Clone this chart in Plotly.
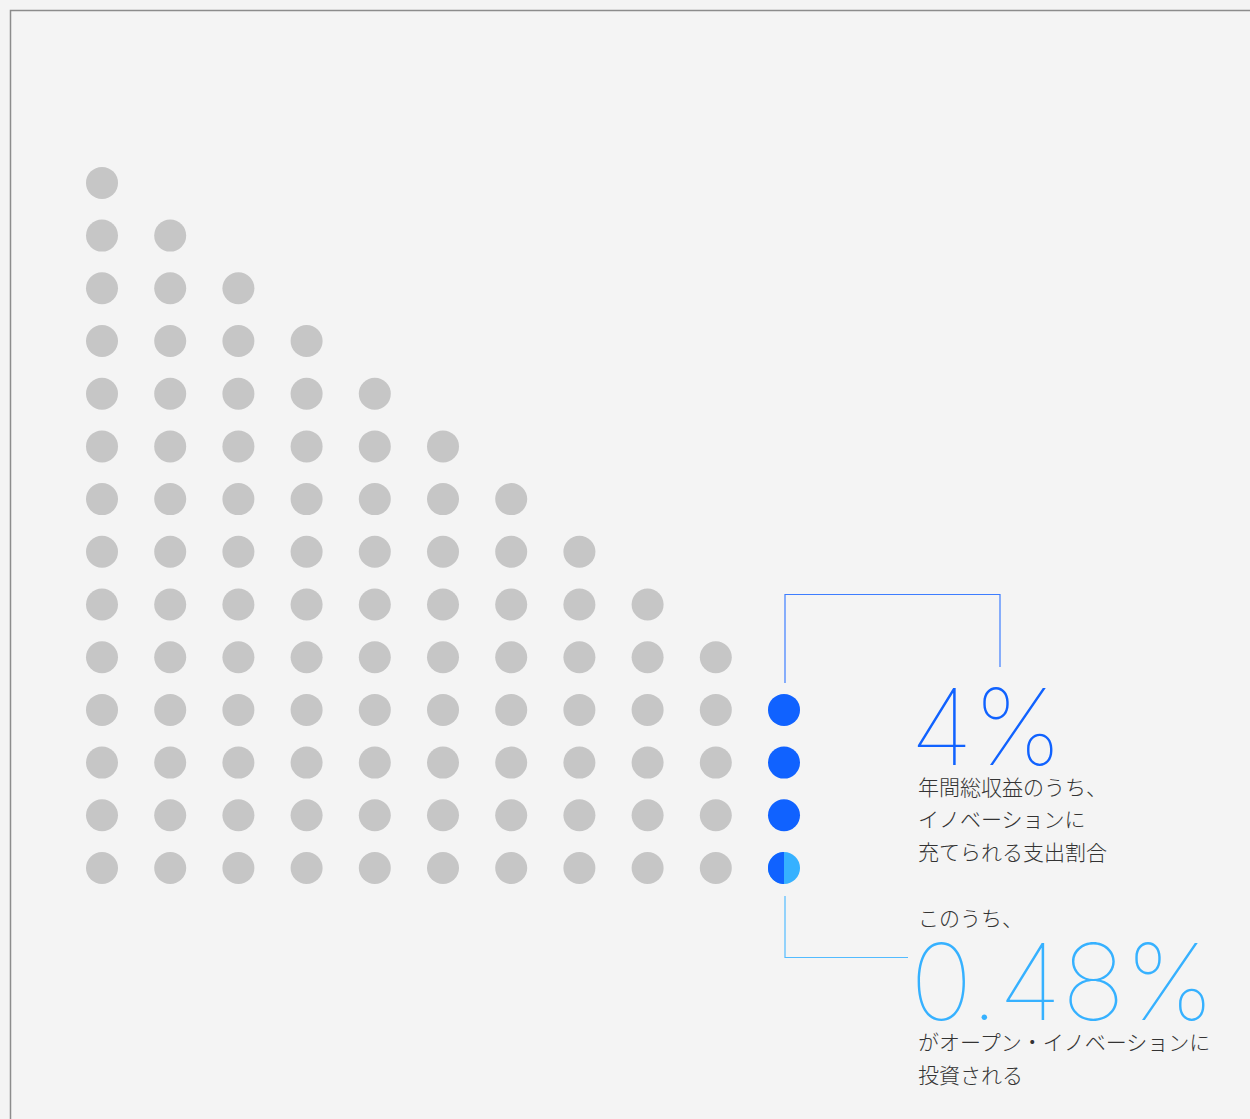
import plotly.graph_objects as go
import numpy as np

# ---- data ----
gray_columns = [1, 2, 3, 4, 5, 6, 7, 8, 9, 10]
gray_counts = [14, 13, 12, 11, 10, 9, 8, 7, 6, 5]
blue_column = 11
blue_full_rows = [2, 3, 4]
half_row = 1
total_pct = "4%"
open_pct = "0.48%"
label_total = ["年間総収益のうち、", "イノベーションに", "充てられる支出割合"]
label_pre = "このうち、"
label_open = ["がオープン・イノベーションに", "投資される"]

W, H = 1250, 1119
GRAY = "#c6c6c6"
BLUE = "#1062ff"
LIGHT = "#36b1ff"

# pixel mapping for axes
x0_px, dx_px = 102, 68.2
y0_px, dy_px = 868, 52.7
x_range = [1 - x0_px / dx_px, 1 + (W - x0_px) / dx_px]
y_range = [1 - (H - y0_px) / dy_px, 1 + y0_px / dy_px]

def px_x(p):
    return 1 + (p - x0_px) / dx_px

def px_y(p):
    return 1 + (y0_px - p) / dy_px

gx, gy = [], []
for c, n in zip(gray_columns, gray_counts):
    for r in range(1, n + 1):
        gx.append(c)
        gy.append(r)

fig = go.Figure()
fig.add_trace(go.Scatter(x=gx, y=gy, mode="markers",
                         marker=dict(size=32, color=GRAY, line=dict(width=0)),
                         hoverinfo="skip", showlegend=False))
fig.add_trace(go.Scatter(x=[blue_column] * len(blue_full_rows), y=blue_full_rows, mode="markers",
                         marker=dict(size=32, color=BLUE, line=dict(width=0)),
                         hoverinfo="skip", showlegend=False))
fig.add_trace(go.Scatter(x=[blue_column], y=[half_row], mode="markers",
                         marker=dict(size=32, color=LIGHT, line=dict(width=0)),
                         hoverinfo="skip", showlegend=False))

# left half of the half dot (pixel-sized path anchored at data point)
R = 16
angs = np.linspace(np.pi / 2, 3 * np.pi / 2, 40)
pts = [(R * np.cos(a), R * np.sin(a)) for a in angs]
path = "M " + " L ".join(f"{x:.2f},{y:.2f}" for x, y in pts) + " Z"
shapes = [dict(type="path", xref="x", yref="y", xsizemode="pixel", ysizemode="pixel",
               xanchor=blue_column, yanchor=half_row, path=path,
               fillcolor=BLUE, line=dict(width=0), layer="above")]

# connector lines
LW = 1.2
shapes += [
    dict(type="path", xref="x", yref="y",
         path=f"M {px_x(785)},{px_y(683)} L {px_x(785)},{px_y(594.5)} L {px_x(1000)},{px_y(594.5)} L {px_x(1000)},{px_y(667)}",
         line=dict(color="#3d7dff", width=LW)),
    dict(type="path", xref="x", yref="y",
         path=f"M {px_x(785)},{px_y(896)} L {px_x(785)},{px_y(957.5)} L {px_x(908)},{px_y(957.5)}",
         line=dict(color="#52bbff", width=LW)),
]
# frame
shapes.append(dict(type="rect", xref="paper", yref="paper",
                   x0=10.5 / W, x1=1.2, y0=-0.2, y1=1 - 10.5 / H,
                   line=dict(color="#8c8c8c", width=1.5), fillcolor="rgba(0,0,0,0)", layer="below"))

def ann(text, x, y, size, color, family, weight, anchor="middle"):
    return dict(text=text, x=x / W, y=1 - y / H, xref="paper", yref="paper",
                xanchor="left", yanchor=anchor, showarrow=False, borderpad=0,
                font=dict(size=size, color=color, family=family, weight=weight))

JP = "Noto Sans CJK JP"
NUM = "Inter"
anns = [
    ann(total_pct, 909, 726, 106, BLUE, NUM, 100),
    ann(label_total[0], 917, 786, 21, "#333333", JP, 300),
    ann(label_total[1], 917, 818, 21, "#333333", JP, 300),
    ann(label_total[2], 917, 851, 21, "#333333", JP, 300),
    ann(label_pre, 917, 917, 21, "#333333", JP, 300),
    ann(open_pct, 909, 981, 106, LIGHT, NUM, 100),
    ann(label_open[0], 917, 1041, 21, "#333333", JP, 300),
    ann(label_open[1], 917, 1074, 21, "#333333", JP, 300),
]

fig.update_layout(
    width=W, height=H, margin=dict(l=0, r=0, t=0, b=0),
    paper_bgcolor="#f4f4f4", plot_bgcolor="#f4f4f4",
    xaxis=dict(range=x_range, visible=False, fixedrange=True),
    yaxis=dict(range=y_range, visible=False, fixedrange=True),
    shapes=shapes, annotations=anns, showlegend=False,
)
fig.write_html("out.html", config={"displayModeBar": False})
